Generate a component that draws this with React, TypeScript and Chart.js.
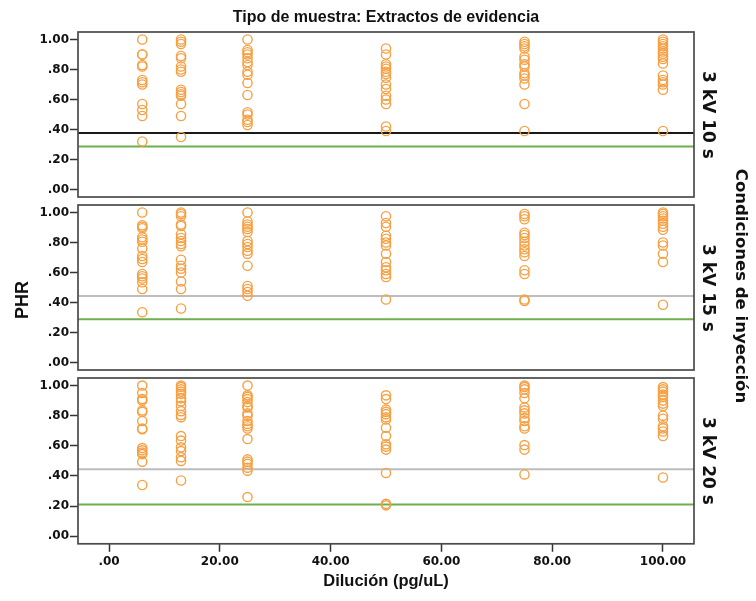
import React, { useEffect, useRef } from "react";
import { Chart, registerables } from "chart.js";

Chart.register(...registerables);

// ---------- data ----------
const dilutions = [6, 13, 25, 50, 75, 100];
const xTickValues = [0, 20, 40, 60, 80, 100];
const yTickValues = [0, 0.2, 0.4, 0.6, 0.8, 1.0];
const panelLabels = ["3 kV 10 s", "3 kV 15 s", "3 kV 20 s"];

// Panel 1: 3 kV 10 s
const p10_d6 = [1.0, 0.9, 0.9, 0.83, 0.82, 0.73, 0.715, 0.7, 0.57, 0.53, 0.49, 0.32];
const p10_d13 = [1.0, 0.985, 0.97, 0.89, 0.875, 0.82, 0.8, 0.785, 0.665, 0.65, 0.635, 0.625, 0.57, 0.49, 0.35];
const p10_d25 = [1.0, 0.93, 0.915, 0.9, 0.875, 0.85, 0.83, 0.785, 0.765, 0.71, 0.63, 0.515, 0.5, 0.465, 0.45, 0.43];
const p10_d50 = [0.94, 0.9, 0.835, 0.82, 0.805, 0.785, 0.77, 0.745, 0.7, 0.67, 0.625, 0.6, 0.57, 0.42, 0.39];
const p10_d75 = [0.985, 0.97, 0.955, 0.94, 0.885, 0.865, 0.835, 0.82, 0.775, 0.76, 0.74, 0.7, 0.57, 0.39];
const p10_d100 = [1.0, 0.985, 0.97, 0.955, 0.94, 0.92, 0.905, 0.885, 0.87, 0.84, 0.76, 0.73, 0.715, 0.7, 0.665, 0.39];

// Panel 2: 3 kV 15 s
const p15_d6 = [1.0, 0.915, 0.905, 0.895, 0.835, 0.82, 0.805, 0.76, 0.71, 0.69, 0.67, 0.59, 0.575, 0.56, 0.535, 0.49, 0.335];
const p15_d13 = [1.0, 0.99, 0.975, 0.92, 0.91, 0.855, 0.83, 0.81, 0.79, 0.775, 0.685, 0.645, 0.625, 0.6, 0.54, 0.49, 0.36];
const p15_d25 = [1.0, 0.94, 0.92, 0.905, 0.89, 0.87, 0.81, 0.79, 0.77, 0.745, 0.725, 0.645, 0.51, 0.49, 0.47, 0.445];
const p15_d50 = [0.975, 0.93, 0.905, 0.845, 0.825, 0.8, 0.78, 0.725, 0.67, 0.635, 0.615, 0.59, 0.57, 0.42];
const p15_d75 = [0.99, 0.975, 0.955, 0.865, 0.85, 0.83, 0.805, 0.78, 0.755, 0.735, 0.71, 0.615, 0.59, 0.42, 0.41];
const p15_d100 = [1.0, 0.99, 0.975, 0.96, 0.945, 0.925, 0.905, 0.885, 0.8, 0.78, 0.725, 0.67, 0.385];

// Panel 3: 3 kV 20 s
const p20_d6 = [1.0, 0.95, 0.91, 0.9, 0.835, 0.825, 0.765, 0.715, 0.71, 0.585, 0.57, 0.555, 0.545, 0.495, 0.34];
const p20_d13 = [1.0, 0.99, 0.975, 0.96, 0.945, 0.915, 0.895, 0.865, 0.83, 0.805, 0.79, 0.665, 0.635, 0.59, 0.565, 0.525, 0.5, 0.37];
const p20_d25 = [1.0, 0.935, 0.925, 0.91, 0.89, 0.865, 0.855, 0.815, 0.8, 0.765, 0.745, 0.73, 0.715, 0.645, 0.51, 0.495, 0.48, 0.455, 0.435, 0.26];
const p20_d50 = [0.935, 0.91, 0.84, 0.825, 0.81, 0.79, 0.775, 0.72, 0.665, 0.61, 0.595, 0.575, 0.42, 0.215, 0.205];
const p20_d75 = [1.0, 0.99, 0.975, 0.95, 0.915, 0.855, 0.835, 0.815, 0.785, 0.765, 0.73, 0.715, 0.605, 0.575, 0.41];
const p20_d100 = [0.99, 0.975, 0.96, 0.94, 0.925, 0.9, 0.88, 0.865, 0.8, 0.78, 0.73, 0.715, 0.695, 0.665, 0.39];

// reference lines per panel
const upperRef = [0.377, 0.443, 0.444];
const lowerRef = [0.286, 0.289, 0.21];

const panelSeries = [
  [p10_d6, p10_d13, p10_d25, p10_d50, p10_d75, p10_d100],
  [p15_d6, p15_d13, p15_d25, p15_d50, p15_d75, p15_d100],
  [p20_d6, p20_d13, p20_d25, p20_d50, p20_d75, p20_d100],
];

// ---------- layout / style ----------
const W = 756;
const H = 601;
const X_MIN = -5.6;
const X_MAX = 105.6;
const Y_MIN = -0.05;
const Y_MAX = 1.05;
const AREA_LEFT = 78;
const AREA_RIGHT = 694;
const AREA_TOPS = [32, 205, 378];
const AREA_BOTTOMS = [197, 370, 543];
const FONT = "'Liberation Sans', Arial, Helvetica, sans-serif";
const WIDE_FONT = "'DejaVu Sans', Verdana, sans-serif";
const ORANGE = "#F6A043";
const GREEN = "#6DAE4F";
const upperColors = ["#1a1a1a", "#bdbdbd", "#bdbdbd"];

const fmt = (v: number) => v.toFixed(2).replace(/^0\./, ".");

const framePlugin = {
  id: "frame",
  afterDatasetsDraw(chart: any) {
    const { ctx, chartArea } = chart;
    ctx.save();
    ctx.strokeStyle = "#4a4a4a";
    ctx.lineWidth = 1.7;
    ctx.strokeRect(chartArea.left, chartArea.top, chartArea.right - chartArea.left, chartArea.bottom - chartArea.top);
    ctx.restore();
  },
};

function buildConfig(i: number): any {
  const isTop = i === 0;
  const isBottom = i === 2;
  const points = panelSeries[i].flatMap((vals, k) => vals.map((v) => ({ x: dilutions[k], y: v })));

  const tickGrid = {
    display: true,
    drawOnChartArea: false,
    drawTicks: true,
    tickLength: 8,
    tickColor: "#333",
    tickWidth: 1.5,
  };

  let xScale: any;
  if (isBottom) {
    xScale = {
      type: "linear",
      position: "bottom",
      min: X_MIN,
      max: X_MAX,
      afterBuildTicks: (s: any) => {
        s.ticks = xTickValues.map((v) => ({ value: v }));
      },
      grid: tickGrid,
      border: { display: false },
      ticks: {
        callback: (v: number) => fmt(v),
        color: "#111",
        font: { family: WIDE_FONT, size: 12, weight: "bold" },
        padding: 3,
        maxRotation: 0,
      },
      title: {
        display: true,
        text: "Dilución (pg/uL)",
        color: "#111",
        font: { family: FONT, size: 16.5, weight: "bold" },
        padding: { top: -1, bottom: 10 },
      },
    };
  } else if (isTop) {
    xScale = {
      type: "linear",
      position: "top",
      min: X_MIN,
      max: X_MAX,
      grid: { display: false, drawTicks: false },
      border: { display: false },
      ticks: { display: false },
      title: {
        display: true,
        text: "Tipo de muestra: Extractos de evidencia",
        color: "#111",
        font: { family: FONT, size: 16, weight: "bold" },
        padding: { top: 8, bottom: 4.8 },
      },
    };
  } else {
    xScale = { type: "linear", min: X_MIN, max: X_MAX, display: false };
  }

  return {
    type: "scatter",
    data: {
      datasets: [
        {
          data: points,
          order: 1,
          pointStyle: "circle",
          pointRadius: 4.6,
          pointHoverRadius: 4.6,
          pointBorderWidth: 1.4,
          borderColor: ORANGE,
          pointBorderColor: ORANGE,
          backgroundColor: "rgba(0,0,0,0)",
          pointBackgroundColor: "rgba(0,0,0,0)",
        },
        {
          data: [
            { x: X_MIN, y: upperRef[i] },
            { x: X_MAX, y: upperRef[i] },
          ],
          order: 2,
          showLine: true,
          pointRadius: 0,
          borderColor: upperColors[i],
          borderWidth: 2,
          fill: false,
        },
        {
          data: [
            { x: X_MIN, y: lowerRef[i] },
            { x: X_MAX, y: lowerRef[i] },
          ],
          order: 3,
          showLine: true,
          pointRadius: 0,
          borderColor: GREEN,
          borderWidth: 2,
          fill: false,
        },
      ],
    },
    options: {
      responsive: false,
      animation: false,
      events: [],
      layout: {
        padding: {
          left: 0,
          right: W - AREA_RIGHT,
          top: isTop ? 0 : AREA_TOPS[i],
          bottom: isBottom ? 0 : H - AREA_BOTTOMS[i],
        },
      },
      plugins: {
        legend: { display: false },
        tooltip: { enabled: false },
        title: { display: false },
      },
      scales: {
        x: xScale,
        y: {
          type: "linear",
          position: "left",
          min: Y_MIN,
          max: Y_MAX,
          afterBuildTicks: (s: any) => {
            s.ticks = yTickValues.map((v) => ({ value: v }));
          },
          afterFit: (s: any) => {
            s.width = AREA_LEFT;
          },
          grid: tickGrid,
          border: { display: false },
          ticks: {
            callback: (v: number) => fmt(v),
            color: "#111",
            font: { family: WIDE_FONT, size: 12, weight: "bold" },
            padding: 1,
          },
        },
      },
    },
    plugins: [framePlugin],
  };
}

const labelBase: React.CSSProperties = {
  position: "absolute",
  fontWeight: "bold",
  color: "#111",
  whiteSpace: "nowrap",
  lineHeight: 1,
};

export default function App() {
  const r0 = useRef<HTMLCanvasElement>(null);
  const r1 = useRef<HTMLCanvasElement>(null);
  const r2 = useRef<HTMLCanvasElement>(null);

  useEffect(() => {
    const refs = [r0, r1, r2];
    const charts = refs.map((r, i) => new Chart(r.current as HTMLCanvasElement, buildConfig(i)));
    return () => charts.forEach((c) => c.destroy());
  }, []);

  const canvasStyle: React.CSSProperties = { position: "absolute", left: 0, top: 0 };
  const panelCenters = AREA_TOPS.map((t, i) => (t + AREA_BOTTOMS[i]) / 2);

  return (
    <div style={{ position: "absolute", left: 0, top: 0, width: W, height: H, background: "#fff", overflow: "hidden" }}>
      <canvas ref={r0} width={W} height={H} style={canvasStyle} />
      <canvas ref={r1} width={W} height={H} style={canvasStyle} />
      <canvas ref={r2} width={W} height={H} style={canvasStyle} />
      <div
        style={{
          ...labelBase,
          fontFamily: FONT,
          fontSize: 18,
          left: 22,
          top: 300,
          transform: "translate(-50%, -50%) rotate(-90deg)",
        }}
      >
        PHR
      </div>
      {panelLabels.map((t, i) => (
        <div
          key={t}
          style={{
            ...labelBase,
            fontFamily: WIDE_FONT,
            fontSize: 17,
            left: 708,
            top: panelCenters[i],
            transform: "translate(-50%, -50%) rotate(90deg)",
          }}
        >
          {t}
        </div>
      ))}
      <div
        style={{
          ...labelBase,
          fontFamily: WIDE_FONT,
          fontSize: 16.5,
          left: 741,
          top: 286,
          transform: "translate(-50%, -50%) rotate(90deg)",
        }}
      >
        Condiciones de inyección
      </div>
    </div>
  );
}
